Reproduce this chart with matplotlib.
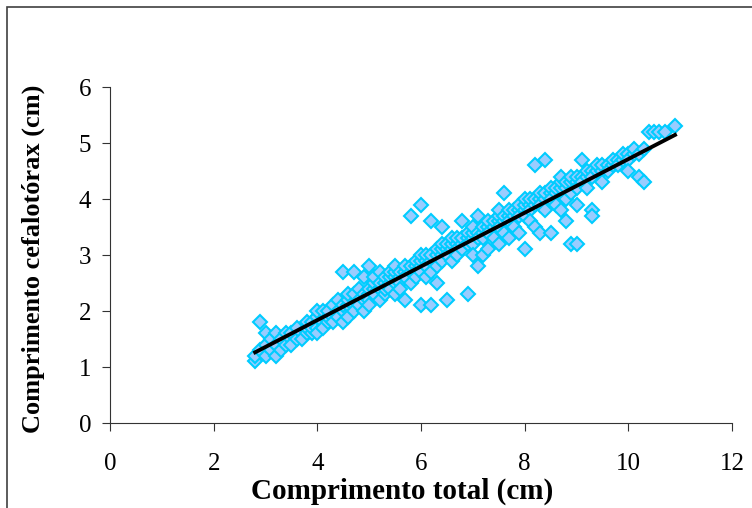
import numpy as np
import matplotlib.pyplot as plt
from matplotlib.patches import Rectangle

# comprimento total (cm) x comprimento do cefalotorax (cm)
comprimento_total = [
    2.8, 2.8, 2.9, 2.9, 3.0, 3.0, 3.0, 3.1, 3.1, 3.2, 3.2, 3.2, 3.3, 3.3, 3.4, 3.4, 3.5, 3.5, 3.5,
    3.6, 3.6, 3.7, 3.7, 3.8, 3.8, 3.8, 3.9, 3.9, 3.9, 4.0, 4.0, 4.0, 4.0, 4.1, 4.1, 4.1,
    4.2, 4.2, 4.2, 4.3, 4.3, 4.3, 4.4, 4.4, 4.4, 4.5, 4.5, 4.5, 4.5, 4.6, 4.6, 4.6, 4.6,
    4.7, 4.7, 4.7, 4.7, 4.8, 4.8, 4.8, 4.9, 4.9, 4.9, 4.9,
    5.0, 5.0, 5.0, 5.0, 5.0, 5.1, 5.1, 5.1, 5.1, 5.2, 5.2, 5.2, 5.2, 5.3, 5.3, 5.3, 5.3,
    5.4, 5.4, 5.4, 5.4, 5.5, 5.5, 5.5, 5.5, 5.5, 5.6, 5.6, 5.6, 5.6, 5.7, 5.7, 5.7, 5.7,
    5.8, 5.8, 5.8, 5.8, 5.9, 5.9, 5.9, 5.9,
    6.0, 6.0, 6.0, 6.0, 6.0, 6.0, 6.1, 6.1, 6.1, 6.1, 6.2, 6.2, 6.2, 6.2, 6.2,
    6.3, 6.3, 6.3, 6.3, 6.4, 6.4, 6.4, 6.4, 6.4, 6.5, 6.5, 6.5, 6.5, 6.6, 6.6, 6.6, 6.6,
    6.7, 6.7, 6.7, 6.7, 6.8, 6.8, 6.8, 6.8, 6.9, 6.9, 6.9, 6.9,
    7.0, 7.0, 7.0, 7.0, 7.0, 7.1, 7.1, 7.1, 7.1, 7.2, 7.2, 7.2, 7.2, 7.3, 7.3, 7.3, 7.3,
    7.4, 7.4, 7.4, 7.5, 7.5, 7.5, 7.5, 7.5, 7.6, 7.6, 7.6, 7.6, 7.7, 7.7, 7.7, 7.7,
    7.8, 7.8, 7.8, 7.9, 7.9, 7.9, 7.9,
    8.0, 8.0, 8.0, 8.0, 8.0, 8.1, 8.1, 8.1, 8.1, 8.2, 8.2, 8.2, 8.2, 8.3, 8.3, 8.3, 8.3,
    8.4, 8.4, 8.4, 8.4, 8.5, 8.5, 8.5, 8.5, 8.6, 8.6, 8.6, 8.7, 8.7, 8.7, 8.7,
    8.8, 8.8, 8.8, 8.8, 8.9, 8.9, 8.9, 8.9,
    9.0, 9.0, 9.0, 9.0, 9.0, 9.1, 9.1, 9.1, 9.2, 9.2, 9.2, 9.3, 9.3, 9.3, 9.3,
    9.4, 9.4, 9.5, 9.5, 9.5, 9.6, 9.6, 9.7, 9.7, 9.8, 9.8, 9.9, 9.9,
    10.0, 10.0, 10.0, 10.1, 10.1, 10.2, 10.2, 10.3, 10.3, 10.4, 10.5, 10.6, 10.7, 10.9,
]
comprimento_cefalotorax = [
    1.1, 1.2, 1.8, 1.3, 1.2, 1.4, 1.6, 1.3, 1.5, 1.2, 1.4, 1.6, 1.3, 1.5, 1.4, 1.6, 1.5, 1.6, 1.4,
    1.5, 1.7, 1.6, 1.5, 1.6, 1.7, 1.8, 1.6, 1.8, 1.7, 1.7, 1.9, 2.0, 1.6, 1.8, 2.0, 1.7,
    1.8, 1.9, 2.0, 1.9, 2.1, 1.8, 2.0, 2.2, 1.9, 2.0, 2.1, 2.7, 1.8, 2.1, 2.2, 2.3, 1.9,
    2.1, 2.3, 2.7, 2.0, 2.2, 2.4, 2.1, 2.3, 2.2, 2.6, 2.0,
    2.3, 2.4, 2.2, 2.8, 2.1, 2.4, 2.5, 2.3, 2.6, 2.4, 2.5, 2.2, 2.7, 2.5, 2.6, 2.3, 2.4,
    2.5, 2.6, 2.7, 2.4, 2.6, 2.5, 2.7, 2.3, 2.8, 2.6, 2.7, 2.5, 2.4, 2.7, 2.6, 2.2, 2.8,
    2.7, 2.8, 3.7, 2.5, 2.8, 2.7, 2.9, 2.6,
    2.8, 2.9, 2.7, 3.9, 2.1, 3.0, 2.9, 2.8, 3.0, 2.6, 2.9, 3.0, 2.1, 2.7, 3.6,
    3.0, 3.1, 2.8, 2.5, 3.0, 3.1, 2.9, 3.2, 3.5, 3.1, 3.0, 3.2, 2.2, 3.1, 3.2, 2.9, 3.3,
    3.2, 3.1, 3.3, 3.0, 3.2, 3.3, 3.6, 3.1, 3.3, 3.4, 2.3, 3.2,
    3.3, 3.4, 3.2, 3.5, 3.0, 3.4, 3.3, 3.7, 2.8, 3.4, 3.5, 3.3, 3.0, 3.5, 3.4, 3.6, 3.1,
    3.5, 3.6, 3.3, 3.6, 3.5, 3.7, 3.2, 3.8, 3.6, 3.7, 4.1, 3.4, 3.7, 3.6, 3.8, 3.3,
    3.7, 3.8, 3.5, 3.8, 3.7, 3.9, 3.4,
    3.8, 3.9, 3.7, 3.1, 4.0, 3.9, 3.8, 4.0, 3.6, 3.9, 4.0, 4.6, 3.5, 4.0, 3.9, 4.1, 3.4,
    4.0, 4.1, 4.7, 3.8, 4.1, 4.0, 4.2, 3.4, 4.1, 4.2, 3.9, 4.2, 4.3, 3.8, 4.4,
    4.2, 4.3, 4.0, 3.6, 4.3, 4.4, 3.2, 4.1,
    4.3, 4.4, 3.2, 4.2, 3.9, 4.4, 4.7, 4.3, 4.4, 4.5, 4.2, 3.8, 3.7, 4.5, 4.4,
    4.5, 4.6, 4.5, 4.6, 4.3, 4.6, 4.5, 4.6, 4.7, 4.7, 4.6, 4.7, 4.8,
    4.8, 4.7, 4.5, 4.8, 4.9, 4.4, 4.8, 4.9, 4.3, 5.2, 5.2, 5.2, 5.2, 5.3,
]

x_ticks = [0, 2, 4, 6, 8, 10, 12]
y_ticks = [0, 1, 2, 3, 4, 5, 6]

plt.rcParams['font.family'] = ['Liberation Serif', 'DejaVu Serif']

fig = plt.figure(figsize=(7.52, 5.08), dpi=100)
fig.patches.append(Rectangle((7 / 752, -0.1), 1.2, 1.1 - 7 / 508, transform=fig.transFigure,
                             fill=False, edgecolor='#404040', linewidth=1.2))

ax = fig.add_axes([0.1463, 0.1673, 0.8271, 0.6614])

x = np.array(comprimento_total)
y = np.array(comprimento_cefalotorax)
ax.plot(x, y, linestyle='none', marker='D', markersize=7,
        markerfacecolor='#99CCFF', markeredgecolor='#00CCFF', markeredgewidth=1.5)

# linha de tendencia (minimos quadrados)
a, b = np.polyfit(x, y, 1)
xl = np.array([x.min(), x.max()])
ax.plot(xl, a * xl + b, color='black', linewidth=2.8)

ax.set_xlim(0, 12)
ax.set_ylim(0, 6)
ax.set_xticks(x_ticks)
ax.set_yticks(y_ticks)
ax.tick_params(direction='out', length=5.5, width=0.8, colors='#333333', labelcolor='black',
               labelsize=18)
ax.tick_params(axis='x', pad=16)
ax.tick_params(axis='y', pad=8)
for s in ['top', 'right']:
    ax.spines[s].set_visible(False)
for s in ['left', 'bottom']:
    ax.spines[s].set_linewidth(0.8)
    ax.spines[s].set_color('#333333')

ax.set_xlabel('Comprimento total (cm)', fontsize=21, fontweight='bold')
ax.xaxis.set_label_coords(0.469, -0.163)
ax.set_ylabel('Comprimento cefalotórax (cm)', fontsize=19, fontweight='bold')
ax.yaxis.set_label_coords(-0.104, 0.49)

fig.savefig('out.png', dpi=100)
